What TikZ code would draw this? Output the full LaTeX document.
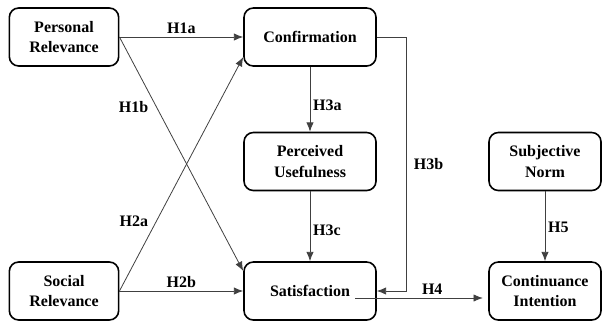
\documentclass[tikz,border=0pt]{standalone}
\usepackage{fontspec}
\setmainfont{Liberation Serif}
\usetikzlibrary{arrows.meta}

\begin{document}
\begin{tikzpicture}[x=0.75pt, y=-0.75pt,
  construct/.style={draw, line width=1.2pt, rounded corners=7pt, align=center,
    font=\bfseries\fontsize{12}{15.5}\selectfont, minimum height=43.5pt},
  link/.style={-{Latex[length=7pt,width=5.5pt]}, draw=black!75, line width=0.6pt},
  hyp/.style={font=\bfseries\fontsize{12}{14}\selectfont, inner sep=2pt}]
\useasboundingbox (0,0) rectangle (610,322);
\node[construct, minimum width=82pt] (PR) at (64,37) {Personal\\Relevance};
\node[construct, minimum width=99pt] (CF) at (310,37) {Confirmation};
\node[construct, minimum width=99pt] (PU) at (310,161.5) {Perceived\\Usefulness};
\node[construct, minimum width=99pt] (SA) at (310,291) {Satisfaction};
\node[construct, minimum width=82pt] (SR) at (64,291) {Social\\Relevance};
\node[construct, minimum width=84pt] (SN) at (545,161.5) {Subjective\\Norm};
\node[construct, minimum width=84pt] (CI) at (545,291) {Continuance\\Intention};
\draw [link] (PR.east) -- node[hyp, above] {H1a} (CF.west);
\draw [link] (PR.east) -- node[hyp, pos=0.3, left=4pt] {H1b} ([yshift=15pt]SA.west);
\draw [link] (SR.east) -- node[hyp, pos=0.3, left=4pt] {H2a} ([yshift=-15pt]CF.west);
\draw [link] (SR.east) -- node[hyp, above] {H2b} (SA.west);
\draw [link] (CF.south) -- node[hyp, pos=0.6, right] {H3a} (PU.north);
\draw [link] (CF.east) -- ++(30,0) |- node[hyp, pos=0.25, right=3pt] {H3b} (SA.east);
\draw [link] (PU.south) -- node[hyp, pos=0.56, right] {H3c} (SA.north);
\draw [link, shorten >=4pt] ([xshift=33.75pt, yshift=-5.25pt]SA.center) -- node[hyp, pos=0.58, above] {H4} ([yshift=-5.25pt]CI.west);
\draw [link] (SN.south) -- node[hyp, pos=0.52, right] {H5} (CI.north);
\end{tikzpicture}
\end{document}
